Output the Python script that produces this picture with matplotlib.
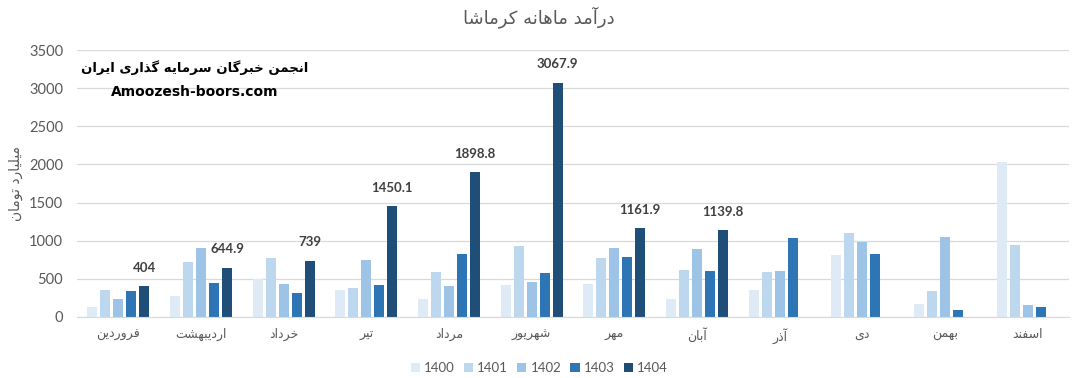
import numpy as np
import matplotlib
matplotlib.use('Agg')
import matplotlib.pyplot as plt

# minimal persian shaping (matplotlib has no complex text layout)
FORMS = {
    'ا': ('\uFE8D', '\uFE8E', None, None),
    'آ': ('\uFE81', '\uFE82', None, None),
    'ب': ('\uFE8F', '\uFE90', '\uFE91', '\uFE92'),
    'ت': ('\uFE95', '\uFE96', '\uFE97', '\uFE98'),
    'ج': ('\uFE9D', '\uFE9E', '\uFE9F', '\uFEA0'),
    'خ': ('\uFEA5', '\uFEA6', '\uFEA7', '\uFEA8'),
    'د': ('\uFEA9', '\uFEAA', None, None),
    'ذ': ('\uFEAB', '\uFEAC', None, None),
    'ر': ('\uFEAD', '\uFEAE', None, None),
    'س': ('\uFEB1', '\uFEB2', '\uFEB3', '\uFEB4'),
    'ش': ('\uFEB5', '\uFEB6', '\uFEB7', '\uFEB8'),
    'ف': ('\uFED1', '\uFED2', '\uFED3', '\uFED4'),
    'ک': ('\uFB8E', '\uFB8F', '\uFB90', '\uFB91'),
    'گ': ('\uFB92', '\uFB93', '\uFB94', '\uFB95'),
    'ل': ('\uFEDD', '\uFEDE', '\uFEDF', '\uFEE0'),
    'م': ('\uFEE1', '\uFEE2', '\uFEE3', '\uFEE4'),
    'ن': ('\uFEE5', '\uFEE6', '\uFEE7', '\uFEE8'),
    'و': ('\uFEED', '\uFEEE', None, None),
    'ه': ('\uFEE9', '\uFEEA', '\uFEEB', '\uFEEC'),
    'ی': ('\uFBFC', '\uFBFD', '\uFBFE', '\uFBFF'),
}


def fa(text):
    out = []
    for i, c in enumerate(text):
        if c not in FORMS:
            out.append(c)
            continue
        prev = text[i - 1] if i > 0 else ''
        nxt = text[i + 1] if i + 1 < len(text) else ''
        join_prev = prev in FORMS and FORMS[prev][2] is not None
        join_next = FORMS[c][2] is not None and nxt in FORMS
        iso, fin, ini, med = FORMS[c]
        if join_prev and join_next:
            out.append(med)
        elif join_prev:
            out.append(fin)
        elif join_next:
            out.append(ini)
        else:
            out.append(iso)
    return ''.join(out[::-1])


months = ['فروردین', 'اردیبهشت', 'خرداد', 'تیر', 'مرداد', 'شهریور',
          'مهر', 'آبان', 'آذر', 'دی', 'بهمن', 'اسفند']
years = ['1400', '1401', '1402', '1403', '1404']

v1400 = [136, 276, 500, 355, 237, 421, 434, 237, 355, 816, 171, 2027]
v1401 = [355, 724, 776, 382, 592, 934, 776, 618, 592, 1105, 342, 947]
v1402 = [237, 908, 434, 750, 408, 461, 908, 895, 605, 987, 1053, 158]
v1403 = [342, 447, 316, 421, 829, 579, 789, 605, 1039, 829, 92, 132]
v1404 = [404, 644.9, 739, 1450.1, 1898.8, 3067.9, 1161.9, 1139.8,
         np.nan, np.nan, np.nan, np.nan]

colors = ['#DEEBF7', '#BDD7EE', '#9DC3E6', '#2E75B6', '#1F4E79']
series = [v1400, v1401, v1402, v1403, v1404]

FA = ['DejaVu Sans']
NUM = ['Lato', 'DejaVu Sans']
GRAY = '#595959'

fig, ax = plt.subplots(figsize=(10.72, 3.78), dpi=100)
fig.subplots_adjust(left=77 / 1072, right=1069 / 1072,
                    bottom=1 - 317 / 378, top=1 - 50 / 378)

x = np.arange(len(months))
pitch = 0.157
width = 0.121
for k, (vals, col, yr) in enumerate(zip(series, colors, years)):
    bars = ax.bar(x + (k - 2) * pitch, vals, width, color=col, label=yr, zorder=2)
    if yr == '1404':
        labs = ['' if np.isnan(v) else '%g' % v for v in vals]
        ax.bar_label(bars, labels=labs, padding=9, fontsize=9.5,
                     fontweight='bold', color='#404040', family=NUM)

ax.set_xlim(-0.5, len(months) - 0.5)
ax.set_ylim(0, 3500)
ax.set_yticks(np.arange(0, 3501, 500))
ax.grid(axis='y', color='#D9D9D9', lw=0.9, zorder=0)
ax.set_axisbelow(True)
for s in ['top', 'right', 'left']:
    ax.spines[s].set_visible(False)
ax.spines['bottom'].set_color('#D9D9D9')
ax.tick_params(length=0, colors=GRAY)
ax.set_xticks(x)
ax.set_xticklabels([fa(m) for m in months], family=FA, fontsize=9, color=GRAY)
for t in ax.get_yticklabels():
    t.set_family(NUM)
    t.set_fontsize(10.5)
ax.tick_params(axis='y', pad=10)
ax.tick_params(axis='x', pad=8)

ax.set_ylabel(fa('میلیارد تومان'), family=FA, fontsize=10, color=GRAY, labelpad=4)

fig.text(0.503, 0.955, fa('درآمد ماهانه کرماشا'), ha='center', va='center',
         family=FA, fontsize=13, color=GRAY)

fig.text(195 / 1072, 1 - 68 / 378, fa('انجمن خبرگان سرمایه گذاری ایران'),
         ha='center', va='center', family=FA, fontsize=9.5,
         fontweight='bold', color='black')
fig.text(195 / 1072, 1 - 92 / 378, 'Amoozesh-boors.com', ha='center',
         va='center', family=['DejaVu Sans'], fontsize=10,
         fontweight='bold', color='black')

leg = ax.legend(loc='center', bbox_to_anchor=(0.503, 1 - 368 / 378),
                bbox_transform=fig.transFigure, ncol=5, frameon=False,
                handlelength=0.7, handleheight=0.7, columnspacing=0.7,
                handletextpad=0.3, prop={'family': NUM, 'size': 9.5})
for t in leg.get_texts():
    t.set_color(GRAY)

fig.savefig('out.png', dpi=100)
